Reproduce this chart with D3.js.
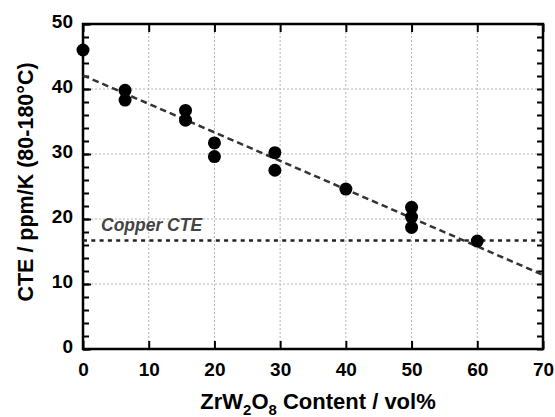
<!DOCTYPE html>
<html><head><meta charset="utf-8">
<script src="https://cdn.jsdelivr.net/npm/d3@7"></script>
<style>body{margin:0;background:#fff}svg{display:block}</style>
</head><body>
<svg id="c" width="555" height="417"></svg>
<script>
const xContent = [0, 6.4, 6.4, 15.6, 15.6, 20, 20, 29.2, 29.2, 40, 50, 50, 50, 60];
const cteValues = [46.0, 39.8, 38.3, 36.7, 35.2, 31.7, 29.6, 30.2, 27.5, 24.6, 21.8, 20.3, 18.7, 16.6];
const fitLine = [[0, 42.1], [70, 11.4]];
const copperCTE = 16.7;
const xTicks = [0, 10, 20, 30, 40, 50, 60, 70];
const yTicks = [0, 10, 20, 30, 40, 50];
const yMinorTicks = d3.range(0, 50.01, 2);

const svg = d3.select("#c");
const L = 83, R = 543, T = 24, B = 349;
const x = d3.scaleLinear().domain([0, 70]).range([L, R]);
const y = d3.scaleLinear().domain([0, 50]).range([B, T]);
const font = "'Liberation Sans', Arial, sans-serif";

// grid
const g = svg.append("g");
g.selectAll(".gx").data(xTicks.slice(1, -1)).join("line")
  .attr("x1", d => x(d)).attr("x2", d => x(d)).attr("y1", T).attr("y2", B)
  .attr("stroke", "#b4b4b4").attr("stroke-width", 1).attr("stroke-dasharray", "2,2");
g.selectAll(".gy").data(yTicks.slice(1, -1)).join("line")
  .attr("y1", d => y(d)).attr("y2", d => y(d)).attr("x1", L).attr("x2", R)
  .attr("stroke", "#b4b4b4").attr("stroke-width", 1).attr("stroke-dasharray", "2,2");

// axes with inward ticks
const axB = svg.append("g").attr("transform", `translate(0,${B})`)
  .call(d3.axisBottom(x).tickValues(xTicks).tickSize(-8).tickPadding(14).tickFormat(d3.format("d")));
const axT = svg.append("g").attr("transform", `translate(0,${T})`)
  .call(d3.axisTop(x).tickValues(xTicks).tickSize(-8).tickFormat(""));
const axLm = svg.append("g").attr("transform", `translate(${L},0)`)
  .call(d3.axisLeft(y).tickValues(yMinorTicks).tickSize(-6).tickFormat(""));
const axL = svg.append("g").attr("transform", `translate(${L},0)`)
  .call(d3.axisLeft(y).tickValues(yTicks).tickSize(-8).tickPadding(10).tickFormat(d3.format("d")));
const axR = svg.append("g").attr("transform", `translate(${R},0)`)
  .call(d3.axisRight(y).tickValues(yMinorTicks).tickSize(-6).tickFormat(""));
[axB, axT, axLm, axL, axR].forEach(a => {
  a.select(".domain").remove();
  a.selectAll(".tick line").attr("stroke", "#000").attr("stroke-width", 2);
  a.selectAll("text").attr("font-family", font).attr("font-weight", "bold")
    .attr("font-size", 19).attr("fill", "#000");
});
axL.selectAll("text").attr("dy", "0.2em");

// frame
svg.append("rect").attr("x", L).attr("y", T).attr("width", R - L).attr("height", B - T)
  .attr("fill", "none").attr("stroke", "#000").attr("stroke-width", 2.5);

// copper line
svg.append("line").attr("x1", x(0)).attr("x2", x(70)).attr("y1", y(copperCTE)).attr("y2", y(copperCTE))
  .attr("stroke", "#222").attr("stroke-width", 2.5).attr("stroke-dasharray", "4,4.3");
svg.append("text").attr("x", 101).attr("y", 231).text("Copper CTE")
  .attr("font-family", font).attr("font-weight", "bold").attr("font-style", "italic")
  .attr("font-size", 17.5).attr("fill", "#444");

// fit line
svg.append("path").datum(fitLine)
  .attr("d", d3.line().x(d => x(d[0])).y(d => y(d[1])))
  .attr("stroke", "#333").attr("stroke-width", 2.5).attr("fill", "none")
  .attr("stroke-dasharray", "6.5,4");

// points
svg.selectAll(".pt").data(xContent.map((v, i) => [v, cteValues[i]])).join("circle")
  .attr("cx", d => x(d[0])).attr("cy", d => y(d[1])).attr("r", 6.5).attr("fill", "#000");

// axis titles
const xt = svg.append("text").attr("x", 318).attr("y", 409).attr("text-anchor", "middle")
  .attr("font-family", font).attr("font-weight", "bold").attr("font-size", 22).attr("fill", "#000");
xt.append("tspan").text("ZrW");
xt.append("tspan").text("2").attr("font-size", 15).attr("dy", 6);
xt.append("tspan").text("O").attr("dy", -6);
xt.append("tspan").text("8").attr("font-size", 15).attr("dy", 6);
xt.append("tspan").text(" Content / vol%").attr("dy", -6);

svg.append("text").attr("transform", `translate(33,182) rotate(-90)`)
  .attr("text-anchor", "middle").text("CTE / ppm/K (80-180°C)")
  .attr("font-family", font).attr("font-weight", "bold").attr("font-size", 21.5).attr("fill", "#000");
</script>
</body></html>
